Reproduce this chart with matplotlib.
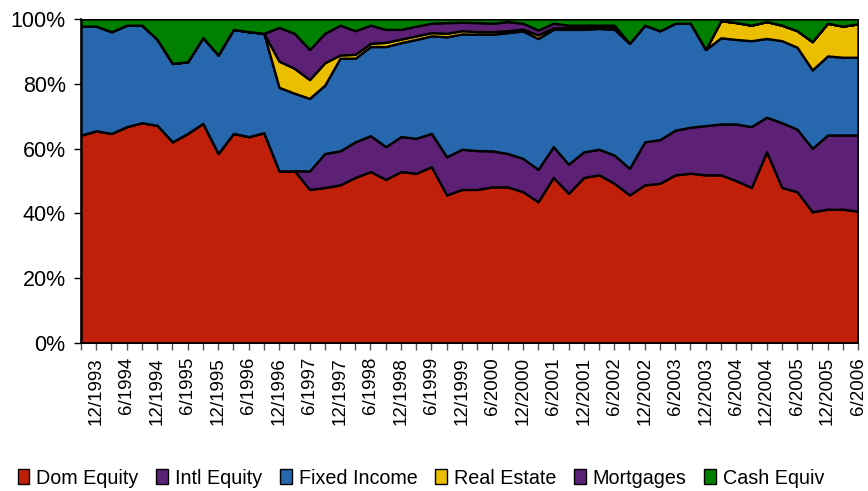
import matplotlib
matplotlib.use("Agg")
import matplotlib.pyplot as plt
from matplotlib import font_manager
from matplotlib.patches import Patch
import numpy as np

quarters = ["9/1993", "12/1993",
            "3/1994", "6/1994", "9/1994", "12/1994",
            "3/1995", "6/1995", "9/1995", "12/1995",
            "3/1996", "6/1996", "9/1996", "12/1996",
            "3/1997", "6/1997", "9/1997", "12/1997",
            "3/1998", "6/1998", "9/1998", "12/1998",
            "3/1999", "6/1999", "9/1999", "12/1999",
            "3/2000", "6/2000", "9/2000", "12/2000",
            "3/2001", "6/2001", "9/2001", "12/2001",
            "3/2002", "6/2002", "9/2002", "12/2002",
            "3/2003", "6/2003", "9/2003", "12/2003",
            "3/2004", "6/2004", "9/2004", "12/2004",
            "3/2005", "6/2005", "9/2005", "12/2005",
            "3/2006", "6/2006"]

dom_equity = [64.2, 65.5, 64.7, 66.8, 68.0, 67.2, 62.1, 64.7, 67.8, 58.5,
              64.7, 63.7, 64.9, 53.1, 53.2, 47.4, 48.0, 48.8, 51.1, 52.9,
              50.5, 52.9, 52.4, 54.4, 45.7, 47.4, 47.4, 48.2, 48.2, 46.7,
              43.6, 51.1, 46.2, 51.1, 51.9, 49.3, 45.7, 48.8, 49.3, 51.9,
              52.4, 51.9, 51.9, 50.1, 48.0, 59.0, 48.0, 46.7, 40.5, 41.3,
              41.3, 40.7]
intl_equity = [0, 0, 0, 0, 0, 0, 0, 0, 0, 0,
               0, 0, 0, 0, 0, 5.7, 10.5, 10.5, 11.0, 11.1,
               10.1, 10.8, 10.8, 10.3, 11.8, 12.4, 12.0, 11.1, 10.3, 10.3,
               10.0, 9.5, 9.0, 7.9, 7.9, 8.7, 8.2, 13.3, 13.5, 13.8,
               14.2, 15.2, 15.7, 17.5, 18.8, 10.7, 20.0, 19.3, 19.6, 22.9,
               22.9, 23.5]
fixed_income = [33.6, 32.3, 31.4, 31.3, 30.1, 26.5, 24.2, 22.1, 26.5, 30.4,
                32.1, 32.4, 30.7, 25.8, 23.9, 22.4, 21.1, 28.6, 25.8, 27.5,
                30.9, 29.0, 30.5, 30.1, 37.0, 35.6, 35.9, 36.0, 37.3, 39.3,
                40.4, 36.2, 41.6, 37.8, 37.3, 38.8, 38.6, 36.0, 33.6, 33.0,
                32.1, 23.5, 26.6, 26.1, 26.5, 24.3, 25.3, 25.3, 24.2, 24.4,
                24.0, 24.0]
real_estate = [0, 0, 0, 0, 0, 0, 0, 0, 0, 0,
               0, 0, 0, 8.1, 7.7, 5.8, 6.9, 1.0, 1.2, 1.0,
               1.3, 1.1, 1.1, 1.0, 1.1, 1.0, 0.8, 0.8, 0.6, 0.6,
               1.1, 0.5, 0.5, 0.5, 0.4, 0.5, 0, 0, 0, 0,
               0, 0, 5.3, 5.2, 4.8, 5.2, 4.8, 5.1, 8.7, 10.1,
               9.6, 10.3]
mortgages = [0, 0, 0, 0, 0, 0, 0, 0, 0, 0,
             0, 0, 0, 10.4, 10.8, 9.3, 9.1, 9.2, 7.3, 5.6,
             4.0, 3.0, 3.0, 2.9, 3.3, 2.6, 2.8, 2.6, 2.8, 1.8,
             1.5, 1.4, 0.8, 0.8, 0.6, 0.8, 0, 0, 0, 0,
             0, 0, 0, 0, 0, 0, 0, 0, 0, 0,
             0, 0]
cash_equiv = [2.2, 2.2, 3.9, 1.9, 1.9, 6.3, 13.7, 13.2, 5.7, 11.1,
              3.2, 3.9, 4.4, 2.6, 4.4, 9.4, 4.4, 1.9, 3.6, 1.9,
              3.2, 3.2, 2.2, 1.3, 1.1, 1.0, 1.1, 1.3, 0.8, 1.3,
              3.4, 1.3, 1.9, 1.9, 1.9, 1.9, 7.5, 1.9, 3.6, 1.3,
              1.3, 9.4, 0.5, 1.1, 1.9, 0.8, 1.9, 3.6, 7.0, 1.3,
              2.2, 1.5]

names = ["Dom Equity", "Intl Equity", "Fixed Income", "Real Estate",
         "Mortgages", "Cash Equiv"]
colors = ["#C0200A", "#5C2174", "#2767AE", "#EBBE00", "#5C2174", "#008000"]

def pick_font(options):
    for f in options:
        try:
            font_manager.findfont(f, fallback_to_default=False)
            return f
        except Exception:
            pass
    return "DejaVu Sans"

main_font = pick_font(["Liberation Sans", "Arial"])
plt.rcParams['font.family'] = [main_font, "DejaVu Sans"]

series = np.array([dom_equity, intl_equity, fixed_income, real_estate,
                   mortgages, cash_equiv], dtype=float)
# normalise to 100% like the excel chart
series = series / series.sum(axis=0) * 100
x = np.arange(len(quarters))

fig = plt.figure(figsize=(8.68, 4.91), dpi=100)
ax = fig.add_axes([81 / 868, 1 - 343 / 491, 777 / 868, 324 / 491])

ax.stackplot(x, series, colors=colors, edgecolor="black", linewidth=1.7)

ax.set_xlim(0, len(quarters) - 1)
ax.set_ylim(0, 100)
ax.set_yticks(range(0, 101, 20))
ax.set_yticklabels([f"{v}%" for v in range(0, 101, 20)], fontsize=15.5)
ax.set_xticks(x)
ax.set_xticklabels([q if i % 2 == 1 else "" for i, q in enumerate(quarters)],
                   rotation=90, fontsize=13.5)
ax.tick_params(axis="x", length=5, width=1, color="#555555", pad=5)
ax.tick_params(axis="y", length=5, width=1, color="black", pad=6)
for s in ["top", "right"]:
    ax.spines[s].set_visible(False)
for s in ["left", "bottom"]:
    ax.spines[s].set_linewidth(1.2)

handles = [Patch(facecolor=c, edgecolor="black", linewidth=1.0) for c in colors]
fig.legend(handles, names, loc="center", bbox_to_anchor=(0.485, 1 - 478 / 491),
           ncol=6, frameon=False, handlelength=0.6, handleheight=0.8,
           handletextpad=0.35, columnspacing=0.9,
           prop={"size": 14.2})

fig.savefig("out.png", dpi=100)
